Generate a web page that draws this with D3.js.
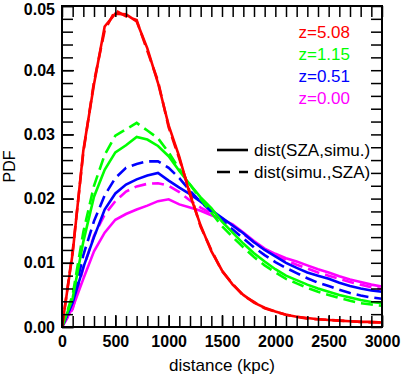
<!DOCTYPE html>
<html>
<head>
<meta charset="utf-8">
<script src="https://cdn.jsdelivr.net/npm/d3@7"></script>
<style>
body { margin: 0; background: #fff; }
text { font-family: "Liberation Sans", Arial, sans-serif; }
</style>
</head>
<body>
<svg width="409" height="388"></svg>
<script>
// distance grid (kpc), one value every 100
const dist = d3.range(0, 3001, 100)

// PDF values, solid = dist(SZA,simu.), dashed = dist(simu.,SZA)
const z508Solid = [0, 0.0115, 0.0275, 0.0378, 0.0468, 0.0488, 0.0487, 0.0476, 0.0434, 0.0380, 0.0314, 0.0265, 0.0206, 0.0158, 0.0118, 0.0088, 0.0066, 0.0050, 0.0038, 0.0030, 0.0024, 0.0019, 0.0016, 0.0014, 0.0012, 0.0011, 0.0010, 0.0009, 0.0008, 0.0008, 0.0007]
const z508Dash = [0, 0.0118, 0.0272, 0.0382, 0.0462, 0.0493, 0.0484, 0.0478, 0.0430, 0.0383, 0.0311, 0.0262, 0.0209, 0.0156, 0.0120, 0.0087, 0.0067, 0.0049, 0.0039, 0.0029, 0.0024, 0.0019, 0.0016, 0.0013, 0.0012, 0.0011, 0.0010, 0.0009, 0.0008, 0.0007, 0.0007]
const z115Solid = [0, 0.0045, 0.0133, 0.0203, 0.0245, 0.0272, 0.0283, 0.0296, 0.0292, 0.0282, 0.0266, 0.0243, 0.0222, 0.0202, 0.0185, 0.0164, 0.0147, 0.0130, 0.0115, 0.0102, 0.0090, 0.0080, 0.0073, 0.0066, 0.0060, 0.0055, 0.0050, 0.0046, 0.0042, 0.0039, 0.0037]
const z115Dash = [0, 0.0050, 0.0148, 0.0220, 0.0268, 0.0298, 0.0308, 0.0318, 0.0306, 0.0294, 0.0272, 0.0246, 0.0222, 0.0199, 0.0178, 0.0157, 0.0140, 0.0124, 0.0109, 0.0096, 0.0085, 0.0075, 0.0068, 0.0061, 0.0055, 0.0050, 0.0045, 0.0041, 0.0037, 0.0035, 0.0033]
const z051Solid = [0, 0.0038, 0.0093, 0.0140, 0.0183, 0.0208, 0.0222, 0.0230, 0.0236, 0.0240, 0.0228, 0.0217, 0.0207, 0.0195, 0.0182, 0.0170, 0.0158, 0.0146, 0.0132, 0.0120, 0.0110, 0.0100, 0.0092, 0.0085, 0.0080, 0.0075, 0.0069, 0.0064, 0.0060, 0.0057, 0.0055]
const z051Dash = [0, 0.0040, 0.0112, 0.0165, 0.0205, 0.0232, 0.0248, 0.0254, 0.0258, 0.0258, 0.0248, 0.0232, 0.0212, 0.0195, 0.0180, 0.0166, 0.0152, 0.0138, 0.0124, 0.0112, 0.0101, 0.0092, 0.0084, 0.0076, 0.0069, 0.0064, 0.0058, 0.0053, 0.0049, 0.0046, 0.0044]
const z000Solid = [0, 0.0030, 0.0075, 0.0118, 0.0147, 0.0167, 0.0176, 0.0183, 0.0189, 0.0196, 0.0199, 0.0191, 0.0186, 0.0181, 0.0174, 0.0168, 0.0160, 0.0147, 0.0134, 0.0122, 0.0114, 0.0107, 0.0102, 0.0096, 0.0090, 0.0085, 0.0079, 0.0074, 0.0070, 0.0066, 0.0063]
const z000Dash = [0, 0.0028, 0.0092, 0.0142, 0.0175, 0.0196, 0.0211, 0.0219, 0.0223, 0.0224, 0.0220, 0.0210, 0.0197, 0.0186, 0.0177, 0.0169, 0.0158, 0.0145, 0.0132, 0.0121, 0.0112, 0.0104, 0.0097, 0.0091, 0.0085, 0.0080, 0.0075, 0.0070, 0.0066, 0.0062, 0.0059]

const redshifts = ["z=5.08", "z=1.15", "z=0.51", "z=0.00"]
const colors = ["#ff0000", "#00ff00", "#0000ff", "#ff00ff"]
const solidSeries = [z508Solid, z115Solid, z051Solid, z000Solid]
const dashSeries = [z508Dash, z115Dash, z051Dash, z000Dash]
const styleLabels = ["dist(SZA,simu.)", "dist(simu.,SZA)"]

const xTicks = [0, 500, 1000, 1500, 2000, 2500, 3000]
const yTicks = [0, 0.01, 0.02, 0.03, 0.04, 0.05]

const svg = d3.select("svg")
const margin = { left: 62, right: 27, top: 6, bottom: 61 }
const width = +svg.attr("width") - margin.left - margin.right,
	height = +svg.attr("height") - margin.top - margin.bottom

const x = d3.scaleLinear().domain([0, 3000]).range([0, width])
const y = d3.scaleLinear().domain([0, 0.05]).range([height, 0])

const g = svg.append("g").attr("transform", `translate(${margin.left},${margin.top})`)

// clip so the thick lines stay inside the frame
g.append("clipPath").attr("id", "clip")
	.append("rect").attr("width", width).attr("height", height)

const line = d3.line()
	.x((d, i) => x(dist[i]))
	.y(d => y(d))

const curves = g.append("g").attr("clip-path", "url(#clip)")

// draw from z=0.00 up so red ends on top
for (let k = colors.length - 1; k >= 0; k--) {
	curves.append("path")
		.attr("d", line(dashSeries[k]))
		.attr("fill", "none")
		.attr("stroke", colors[k])
		.attr("stroke-width", 2.6)
		.attr("stroke-dasharray", "12,6")
	curves.append("path")
		.attr("d", line(solidSeries[k]))
		.attr("fill", "none")
		.attr("stroke", colors[k])
		.attr("stroke-width", 2.6)
}

// axes with inward ticks on all four sides
const tickFont = function (sel) {
	sel.selectAll("text")
		.attr("font-size", 16)
		.attr("font-weight", "bold")
		.attr("fill", "#000")
}
const styleAxis = function (sel) {
	sel.select(".domain").remove()
	sel.selectAll("line").attr("stroke", "#000").attr("stroke-width", 1.5)
}

const xMinor = d3.range(0, 3001, 100)
const yMinor = d3.range(0, 0.0501, 0.002)

g.append("g").attr("transform", `translate(0,${height})`)
	.call(d3.axisBottom(x).tickValues(xMinor).tickSize(-11).tickFormat(""))
	.call(styleAxis)
g.append("g").attr("transform", `translate(0,${height})`)
	.call(d3.axisBottom(x).tickValues(xTicks).tickSize(-12).tickPadding(9).tickFormat(d3.format("d")))
	.call(styleAxis).call(tickFont)
g.append("g")
	.call(d3.axisTop(x).tickValues(xMinor).tickSize(-11).tickFormat(""))
	.call(styleAxis)

g.append("g")
	.call(d3.axisLeft(y).tickValues(yMinor).tickSize(-11).tickFormat(""))
	.call(styleAxis)
const yAxis = g.append("g")
	.call(d3.axisLeft(y).tickValues(yTicks).tickSize(-12).tickPadding(7).tickFormat(d3.format(".2f")))
	.call(styleAxis).call(tickFont)
// top label sits a little lower so it stays inside the page
yAxis.selectAll(".tick text").filter(d => d == 0.05).attr("dy", "0.5em")
g.append("g").attr("transform", `translate(${width},0)`)
	.call(d3.axisRight(y).tickValues(yMinor).tickSize(-11).tickFormat(""))
	.call(styleAxis)

g.append("rect")
	.attr("width", width)
	.attr("height", height)
	.attr("fill", "none")
	.attr("stroke", "#000")
	.attr("stroke-width", 2)

// axis titles
g.append("text")
	.attr("x", width / 2)
	.attr("y", height + 44)
	.attr("text-anchor", "middle")
	.attr("font-size", 17)
	.text("distance (kpc)")

g.append("text")
	.attr("transform", `translate(${-47},${height / 2}) rotate(-90)`)
	.attr("text-anchor", "middle")
	.attr("font-size", 16)
	.text("PDF")

// redshift legend
g.selectAll(".zlabel")
	.data(redshifts)
	.join("text")
	.attr("class", "zlabel")
	.attr("x", 288)
	.attr("y", (d, i) => 32 + i * 22)
	.attr("text-anchor", "end")
	.attr("font-size", 17)
	.attr("fill", (d, i) => colors[i])
	.text(d => d)

// line style legend
const styleLegend = g.selectAll(".slegend")
	.data(styleLabels)
	.join("g")
	.attr("class", "slegend")
	.attr("transform", (d, i) => `translate(155,${144 + i * 22})`)

styleLegend.append("line")
	.attr("x1", 0).attr("x2", 31)
	.attr("stroke", "#000")
	.attr("stroke-width", 2.6)
	.attr("stroke-dasharray", (d, i) => i == 0 ? null : "13,9")

styleLegend.append("text")
	.attr("x", 37)
	.attr("y", 6)
	.attr("font-size", 17)
	.text(d => d)
</script>
</body>
</html>
